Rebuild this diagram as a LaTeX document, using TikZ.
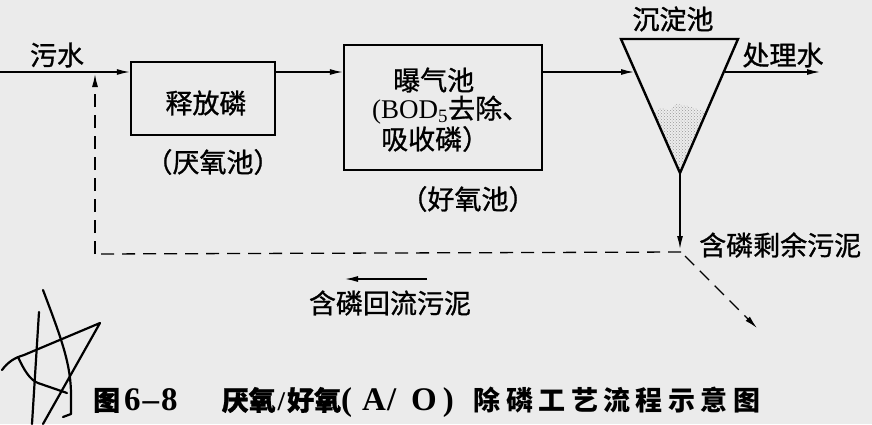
\documentclass[tikz,border=0pt]{standalone}
\usepackage{fontspec}
\setmainfont{Liberation Serif}
\newfontfamily\cjk[FakeBold=1]{Noto Sans CJK SC}
\newfontfamily\cjkcap[LetterSpace=20]{Noto Sans CJK SC}
\usetikzlibrary{arrows.meta,patterns}

\definecolor{paper}{RGB}{235,235,235}

\tikzset{
  tank/.style={draw, line width=2.4pt},
  lbl/.style={inner sep=0pt, font=\fontsize{27}{31}\selectfont},
  flow/.style={line width=1.3pt, -{Latex[length=13pt,width=6pt]}},
  recycle/.style={line width=1.3pt, dash pattern=on 13pt off 8pt},
  scrawl/.style={line width=2.2pt, line cap=round, line join=round}
}

\begin{document}
\begin{tikzpicture}[x=1pt,y=-1pt]
\fill[paper] (0,0) rectangle (872,424);
\useasboundingbox (0,0) rectangle (872,424);

% Tanks
\node[tank, minimum width=144, minimum height=73] (anaerobic) at (203,98.5) {};
\node[lbl] (anaerobicT) at (206,103) {\cjk 释放磷};
\node[lbl] (anaerobicN) at (213,162) {\cjk （厌氧池）};

\node[tank, minimum width=198, minimum height=125] (aerobic) at (443,107.5) {};
\node[lbl, anchor=west] (aerobicA) at (393,80) {\cjk 曝气池};
\node[lbl, anchor=west] (aerobicB) at (372,110) {(BOD\textsubscript{5}{\cjk 去除、}};
\node[lbl, anchor=west] (aerobicC) at (381,139) {\cjk 吸收磷）};
\node[lbl] (aerobicN) at (468,199) {\cjk （好氧池）};

% Settling tank
\coordinate (tl) at (621,39);
\coordinate (tr) at (738,39);
\coordinate (bt) at (680,173);
\fill[white!85!gray] (654,113) -- (661,108) -- (669,110) -- (677,104) -- (688,106)
  -- (697,109) -- (706,112) -- (bt) -- cycle;
\fill[pattern=crosshatch dots, pattern color=gray!80] (654,113) -- (661,108) -- (669,110)
  -- (677,104) -- (688,106) -- (697,109) -- (706,112) -- (bt) -- cycle;
\draw[tank] (tl) -- (tr) -- (bt) -- cycle;
\node[lbl] (settler) at (673,19) {\cjk 沉淀池};

% Main flow
\coordinate (src) at (0,72);
\coordinate (tin) at (634,72);
\coordinate (tout) at (725,72);
\coordinate (outlet) at (820,72);
\node[lbl] (sewage) at (57,55) {\cjk 污水};
\draw[flow] (src) -- (src -| anaerobic.west);
\draw[flow] (anaerobic.east |- src) -- (aerobic.west |- src);
\draw[flow] (aerobic.east |- src) -- (tin);
\draw[flow] (tout) -- (outlet);
\node[lbl] (effluent) at (783,55) {\cjk 处理水};

% Sludge
\coordinate (split) at (681,252);
\coordinate (back) at (95,254);
\coordinate (waste) at (757,328);
\draw[flow] (bt) -- (680,249);
\node[lbl, anchor=west] (excess) at (699,245) {\cjk 含磷剩余污泥};
\draw[recycle] (split) -- (back);
\draw[recycle, -{Latex[length=13pt,width=6pt]}] (back) -- (95,74);
\draw[recycle, -{Latex[length=13pt,width=6pt]}] (685,256) -- (waste);
\coordinate (r1) at (427,279);
\coordinate (r2) at (345,279);
\draw[flow] (r1) -- (r2);
\node[lbl] (returned) at (390,303) {\cjk 含磷回流污泥};

% Scribble
\draw[scrawl] (43,290) .. controls (62,340) and (71,365) .. (71,395) -- (71,414) -- (63,417);
\draw[scrawl] (39,312) -- (32,424);
\draw[scrawl] (2,370) .. controls (8,362) and (14,358) .. (24,355) -- (100,323) -- (43,424);
\draw[scrawl] (18,357) .. controls (24,370) and (30,380) .. (38,383) -- (67,393);

% Caption
\node[inner sep=0pt, anchor=west] (caption) at (93,402)
  {\fontsize{27}{31}\selectfont{\cjk\bfseries 图}\hspace{4pt}{\fontsize{33}{33}\selectfont\bfseries 6\hspace{2pt}--\hspace{2pt}8}\hspace{44pt}{\cjk\bfseries 厌氧}\hspace{2pt}{\bfseries /}\hspace{2pt}{\cjk\bfseries 好氧}{\fontsize{33}{33}\selectfont\bfseries (\hspace{10pt}A\hspace{1pt}/\hspace{15pt}O\hspace{6pt})}\hspace{20pt}{\cjkcap\bfseries 除磷工艺流程示意图}};
\end{tikzpicture}
\end{document}
